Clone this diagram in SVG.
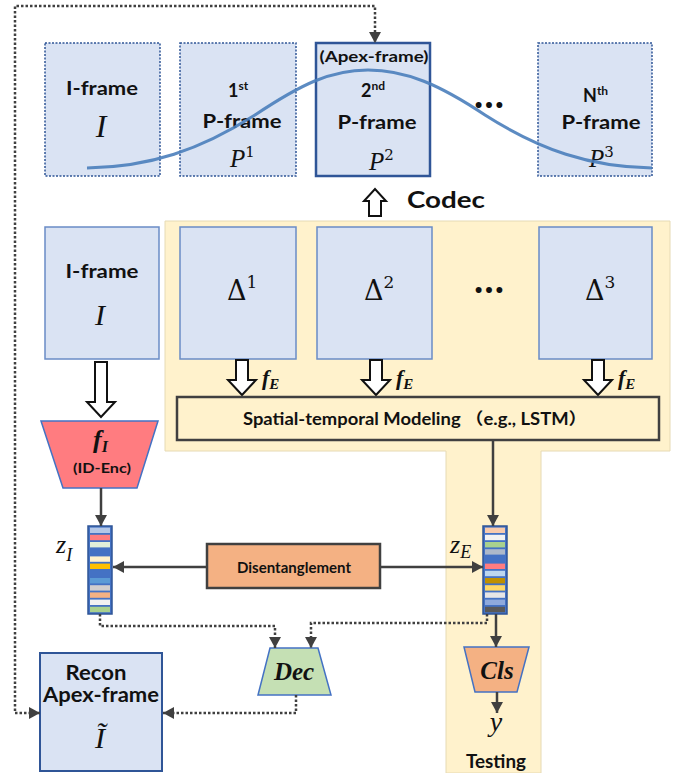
<svg xmlns="http://www.w3.org/2000/svg" width="681" height="773" viewBox="0 0 681 773">
<style>
.lbl{font-family:Lato,"Open Sans","Noto Sans",sans-serif;font-weight:bold;fill:#111;}
.math{font-family:"Liberation Serif","DejaVu Serif",serif;font-style:italic;fill:#111;}
.mathb{font-family:"Liberation Serif","DejaVu Serif",serif;font-style:italic;font-weight:bold;fill:#111;}
.up{font-family:"DejaVu Serif","Liberation Serif",serif;fill:#111;}
.frame{fill:#dae3f3;stroke:#6a8cc6;stroke-width:1.5;}
.dotbox{fill:#dae3f3;stroke:#2f5597;stroke-width:1.5;stroke-dasharray:2 1.5;}
.arr{fill:none;stroke:#404040;stroke-width:2.5;marker-end:url(#ah);}
.dot{fill:none;stroke:#404040;stroke-width:2.5;stroke-dasharray:2.5 2;marker-end:url(#ah);}
.hollow{fill:#fff;stroke:#111;stroke-width:2;stroke-linejoin:miter;}
.trap{stroke:#4472c4;stroke-width:1.5;}
</style>
<defs>
<marker id="ah" markerUnits="userSpaceOnUse" markerWidth="11" markerHeight="12" refX="11" refY="6" orient="auto-start-reverse" viewBox="0 0 11 12">
<path d="M0,0 L11,6 L0,12 z" fill="#404040"/>
</marker>
</defs>

<g id="testing-panel">
<path d="M165,221 H670 V451 H541 V773 H446 V451 H165 Z" fill="#fff2cc" stroke="#e6dab4" stroke-width="1"/>
<text class="lbl" x="496" y="768" font-size="18" text-anchor="middle" textLength="60" lengthAdjust="spacingAndGlyphs">Testing</text>
</g>

<g id="top-iframe">
<rect class="dotbox" x="45" y="43" width="115" height="133"/>
<text class="lbl" x="102" y="95" font-size="18" text-anchor="middle" textLength="72" lengthAdjust="spacingAndGlyphs">I-frame</text>
<text class="math" x="101" y="137" font-size="32" text-anchor="middle">I</text>
</g>

<g id="top-p1">
<rect class="dotbox" x="180" y="43" width="116" height="133"/>
<text class="lbl" x="228" y="97" font-size="18">1<tspan font-size="12" dy="-7">st</tspan></text>
<text class="lbl" x="242" y="128" font-size="18" text-anchor="middle" textLength="79" lengthAdjust="spacingAndGlyphs">P-frame</text>
<text class="math" x="230" y="167" font-size="25">P<tspan class="up" font-style="normal" font-size="15" dy="-10">1</tspan></text>
</g>

<g id="top-p2-apex">
<rect x="316" y="43" width="114" height="133" fill="#dae3f3" stroke="#2f5597" stroke-width="2.5"/>
<text class="lbl" x="374" y="62" font-size="16" text-anchor="middle" textLength="109" lengthAdjust="spacingAndGlyphs">(Apex-frame)</text>
<text class="lbl" x="361" y="97" font-size="18">2<tspan font-size="12" dy="-7">nd</tspan></text>
<text class="lbl" x="377" y="129" font-size="18" text-anchor="middle" textLength="79" lengthAdjust="spacingAndGlyphs">P-frame</text>
<text class="math" x="369" y="170" font-size="25">P<tspan class="up" font-style="normal" font-size="15" dy="-10">2</tspan></text>
</g>

<g id="top-dots">
<text class="lbl" x="489" y="108" font-size="40" text-anchor="middle" textLength="30" lengthAdjust="spacingAndGlyphs">…</text>
</g>

<g id="top-pn">
<rect class="dotbox" x="538" y="43" width="114" height="133"/>
<text class="lbl" x="583" y="102" font-size="18">N<tspan font-size="12" dy="-7">th</tspan></text>
<text class="lbl" x="601" y="129" font-size="18" text-anchor="middle" textLength="79" lengthAdjust="spacingAndGlyphs">P-frame</text>
<text class="math" x="589" y="167" font-size="25">P<tspan class="up" font-style="normal" font-size="15" dy="-10">3</tspan></text>
</g>

<g id="gauss-curve">
<path d="M87,168 C150,167 200,150 255,115 C300,85 330,70 368,70 C406,70 440,85 485,115 C540,150 590,167 652,168" fill="none" stroke="#4a7ebb" stroke-width="3" stroke-opacity="0.9"/>
</g>

<g id="codec">
<polygon class="hollow" points="369,216 381,216 381,201 386,201 375,189 364,201 369,201"/>
<text class="lbl" x="407" y="208" font-size="23" textLength="78" lengthAdjust="spacingAndGlyphs">Codec</text>
</g>

<g id="iframe2">
<rect class="frame" x="45" y="227" width="114" height="132"/>
<text class="lbl" x="102" y="278" font-size="18" text-anchor="middle" textLength="73" lengthAdjust="spacingAndGlyphs">I-frame</text>
<text class="math" x="100" y="325" font-size="30" text-anchor="middle">I</text>
</g>

<g id="delta1">
<rect class="frame" x="180" y="227" width="116" height="132"/>
<text class="up" x="227" y="300" font-size="27">Δ<tspan font-size="17" dy="-12">1</tspan></text>
</g>
<g id="delta2">
<rect class="frame" x="317" y="227" width="115" height="132"/>
<text class="up" x="364" y="300" font-size="27">Δ<tspan font-size="17" dy="-12">2</tspan></text>
</g>
<g id="dots2">
<text class="lbl" x="489" y="293" font-size="40" text-anchor="middle" textLength="30" lengthAdjust="spacingAndGlyphs">…</text>
</g>
<g id="delta3">
<rect class="frame" x="539" y="227" width="113" height="132"/>
<text class="up" x="585" y="300" font-size="27">Δ<tspan font-size="17" dy="-12">3</tspan></text>
</g>

<g id="fe-arrows">
<polygon class="hollow" points="236,360 248,360 248,380 256,380 242,395 228,380 236,380"/>
<text class="mathb" x="262" y="385" font-size="22">f<tspan font-size="15" dy="4">E</tspan></text>
<polygon class="hollow" points="370,360 382,360 382,380 390,380 376,395 362,380 370,380"/>
<text class="mathb" x="396" y="385" font-size="22">f<tspan font-size="15" dy="4">E</tspan></text>
<polygon class="hollow" points="592,360 604,360 604,380 612,380 598,395 584,380 592,380"/>
<text class="mathb" x="618" y="385" font-size="22">f<tspan font-size="15" dy="4">E</tspan></text>
</g>

<g id="spatial-temporal">
<rect x="177" y="397" width="482" height="43" fill="#fff2cc" stroke="#404040" stroke-width="2.5"/>
<text class="lbl" x="415" y="425" font-size="16.5" text-anchor="middle" textLength="344" lengthAdjust="spacingAndGlyphs" style="font-family:Lato,'Noto Sans','Noto Sans CJK SC',sans-serif">Spatial-temporal Modeling （e.g., LSTM）</text>
</g>

<g id="iframe-to-enc">
<polygon class="hollow" points="95,362 107,362 107,402 115,402 101,417 87,402 95,402"/>
</g>

<g id="id-enc">
<polygon class="trap" points="41,421 158,421 137,488 63,488" fill="#ff7c80"/>
<text class="mathb" x="93" y="448" font-size="26">f<tspan font-size="16" dy="4">I</tspan></text>
<text class="lbl" x="102" y="473" font-size="14" text-anchor="middle" textLength="58" lengthAdjust="spacingAndGlyphs">(ID-Enc)</text>
</g>

<g id="z-i">
<rect x="88" y="526" width="24" height="88" fill="#4472c4" stroke="#2f5597" stroke-width="1.5"/>
<rect x="90" y="527.6" width="20" height="5.4" fill="#b4c7e7"/>
<rect x="90" y="534.8" width="20" height="5.4" fill="#ff7c80"/>
<rect x="90" y="542.0" width="20" height="5.4" fill="#e2f0d9"/>
<rect x="90" y="549.2" width="20" height="5.4" fill="#4472c4"/>
<rect x="90" y="556.4" width="20" height="5.4" fill="#fff2cc"/>
<rect x="90" y="563.6" width="20" height="5.4" fill="#ffc000"/>
<rect x="90" y="570.8" width="20" height="5.4" fill="#4472c4"/>
<rect x="90" y="578.0" width="20" height="5.4" fill="#5b9bd5"/>
<rect x="90" y="585.2" width="20" height="5.4" fill="#d0cece"/>
<rect x="90" y="592.4" width="20" height="5.4" fill="#f4b183"/>
<rect x="90" y="599.6" width="20" height="5.4" fill="#f2f2f2"/>
<rect x="90" y="606.8" width="20" height="5.4" fill="#a9d18e"/>
<text class="math" x="56" y="553" font-size="26">z<tspan font-size="18" dy="8">I</tspan></text>
</g>

<g id="z-e">
<rect x="483" y="526" width="24" height="88" fill="#4472c4" stroke="#2f5597" stroke-width="1.5"/>
<rect x="485" y="527.6" width="20" height="5.4" fill="#f8cbad"/>
<rect x="485" y="534.8" width="20" height="5.4" fill="#f2f2f2"/>
<rect x="485" y="542.0" width="20" height="5.4" fill="#a9d18e"/>
<rect x="485" y="549.2" width="20" height="5.4" fill="#adb9ca"/>
<rect x="485" y="556.4" width="20" height="5.4" fill="#4472c4"/>
<rect x="485" y="563.6" width="20" height="5.4" fill="#ff7c80"/>
<rect x="485" y="570.8" width="20" height="5.4" fill="#bdd7ee"/>
<rect x="485" y="578.0" width="20" height="5.4" fill="#bf9000"/>
<rect x="485" y="585.2" width="20" height="5.4" fill="#ffd966"/>
<rect x="485" y="592.4" width="20" height="5.4" fill="#e7e6e6"/>
<rect x="485" y="599.6" width="20" height="5.4" fill="#8faadc"/>
<rect x="485" y="606.8" width="20" height="5.4" fill="#595959"/>
<text class="math" x="450" y="553" font-size="26">z<tspan font-size="18" dy="5">E</tspan></text>
</g>

<g id="disentanglement">
<rect x="207" y="544" width="173" height="44" fill="#f4b183" stroke="#404040" stroke-width="2.5"/>
<text class="lbl" x="294" y="573" font-size="15" text-anchor="middle" textLength="114" lengthAdjust="spacingAndGlyphs">Disentanglement</text>
</g>

<g id="dec">
<polygon class="trap" points="270,648 318,648 331,695 258,695" fill="#c5e0b4"/>
<text class="mathb" x="294" y="680" font-size="25" text-anchor="middle">Dec</text>
</g>

<g id="cls">
<polygon class="trap" points="464,647 529,647 517,692 475,692" fill="#f4b183"/>
<text class="mathb" x="497" y="679" font-size="25" text-anchor="middle">Cls</text>
</g>

<g id="y-out">
<text class="math" x="496" y="731" font-size="28" text-anchor="middle">y</text>
</g>

<g id="recon">
<rect x="40" y="653" width="122" height="118" fill="#dae3f3" stroke="#2f5597" stroke-width="2"/>
<text class="lbl" x="96" y="679.5" font-size="20" text-anchor="middle" textLength="61" lengthAdjust="spacingAndGlyphs">Recon</text>
<text class="lbl" x="101" y="702" font-size="20" text-anchor="middle" textLength="116" lengthAdjust="spacingAndGlyphs">Apex-frame</text>
<text class="math" x="100" y="748" font-size="30" text-anchor="middle">Ĩ</text>
</g>

<g id="connectors">
<path class="arr" d="M101,488 V526"/>
<path class="arr" d="M493,440 V526"/>
<path class="arr" d="M207,567 H113"/>
<path class="arr" d="M380,567 H483"/>
<path class="arr" d="M496,614 V647"/>
<path class="arr" d="M497,692 V713"/>
<path class="dot" d="M100,614 V626 H275 V648"/>
<path class="dot" d="M487,614 V623 H311 V648"/>
<path class="dot" d="M296,695 V713 H163"/>
<path class="dot" d="M40,713 H15 V6 H375 V43" style="marker-start:url(#ah)"/>
</g>
</svg>
